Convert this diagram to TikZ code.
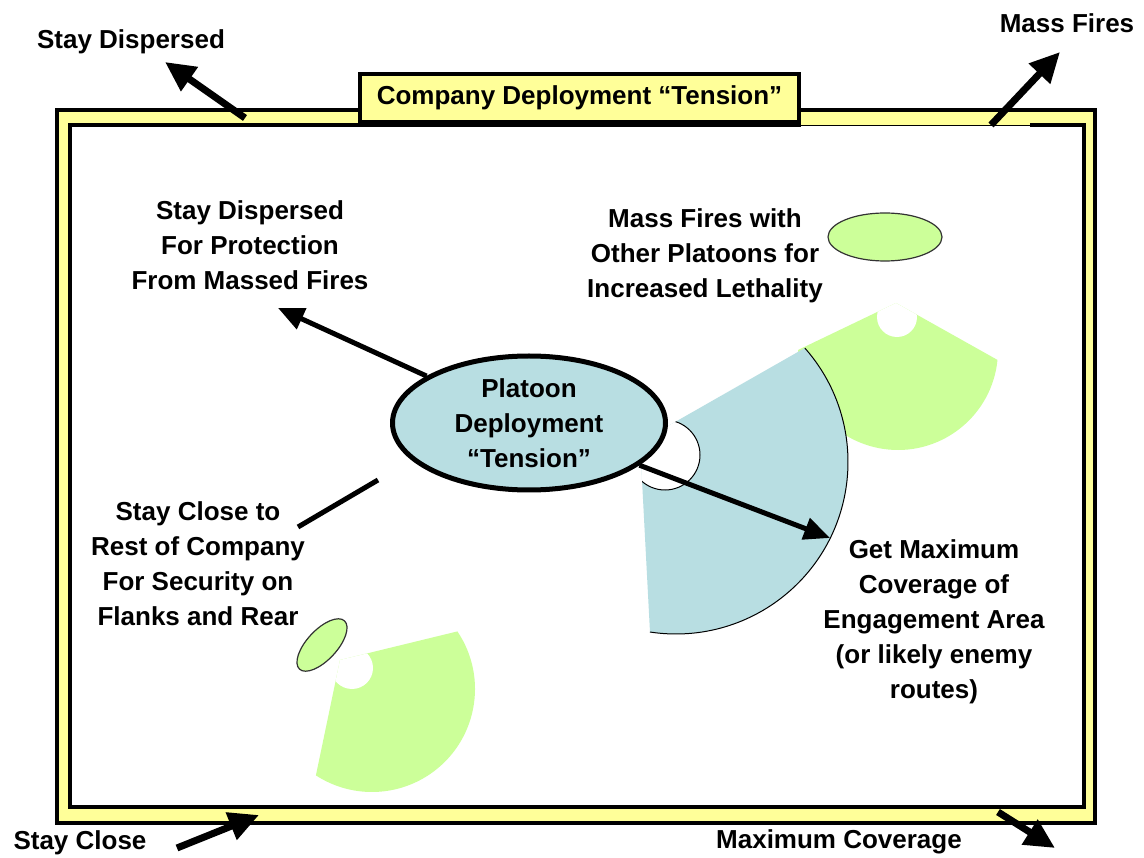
\documentclass[tikz,border=0pt]{standalone}
\usepackage{fontspec}
\setmainfont{Liberation Sans}
\usepackage{tikz}
\usetikzlibrary{calc, arrows.meta, shapes.geometric}

\definecolor{bandyellow}{HTML}{FFFF99}
\definecolor{platoonblue}{HTML}{B8DEE2}
\definecolor{fangreen}{HTML}{CCFF99}

\begin{document}
\begin{tikzpicture}[x=1pt, y=-1pt,
		txt/.style={font=\bfseries\fontsize{26}{35}\selectfont, align=center, inner sep=0pt},
		bigarrow/.style={line width=7pt, -{Triangle[length=30pt, width=28pt]}},
		arrowline/.style={line width=5pt, -{Triangle[length=26pt, width=22pt]}},
		smallellipse/.style={ellipse, draw=black!80, line width=1.2pt, fill=fangreen, inner sep=0pt}]
		\useasboundingbox (0,0) rectangle (1144,858);
		
		%company frame
		\filldraw[fill=bandyellow, line width=4pt] (56.5,110) rectangle (1095,823);
		\fill[white] (70,125.5) rectangle (1084,807);
		\draw[line width=4pt] (1030,125.5) -| (1084,807) -| (70,125.5) -- (801,125.5);
		\draw[line width=1pt] (801,125.5) -- (1030,125.5);
		\node[txt, draw, line width=4pt, fill=bandyellow, minimum width=439pt, minimum height=48pt] (company) at (579.5,98) {Company Deployment “Tension”};
		
		%definition of fan centres
		\coordinate (upper apex) at (896,303);
		\coordinate (upper centre) at (898,350);
		\coordinate (upper notch) at (897,317);
		\coordinate (blue apex) at (640,442);
		\coordinate (blue centre) at (676,462);
		\coordinate (blue notch) at (665,455);
		\coordinate (lower apex) at (340,660);
		\coordinate (lower centre) at (372,689);
		\coordinate (lower notch) at (352,668);
		
		%upper green fan
		\fill[fangreen] (upper apex) -- ($(upper centre)+(5.7:100)$) arc[start angle=5.7, end angle=180, radius=100] -- cycle;
		\begin{scope}
			\clip (upper apex) -- ($(upper centre)+(5.7:100)$) arc[start angle=5.7, end angle=180, radius=100] -- cycle;
			\fill[white] (upper notch) circle[radius=20];
		\end{scope}
		
		%blue fan
		\fill[platoonblue] (blue apex) -- ($(blue centre)+(-41.5:172)$) arc[start angle=-41.5, end angle=98.7, radius=172] -- cycle;
		\draw[line width=1pt] ($(blue centre)+(-41.5:172)$) arc[start angle=-41.5, end angle=98.7, radius=172];
		\begin{scope}
			\clip (blue apex) -- ($(blue centre)+(-41.5:172)$) arc[start angle=-41.5, end angle=98.7, radius=172] -- cycle;
			\filldraw[fill=white, line width=1pt] (blue notch) circle[radius=35];
		\end{scope}
		
		%lower green fan
		\fill[fangreen] (lower apex) -- ($(lower centre)+(-34:103)$) arc[start angle=-34, end angle=123, radius=103] -- cycle;
		\begin{scope}
			\clip (lower apex) -- ($(lower centre)+(-34:103)$) arc[start angle=-34, end angle=123, radius=103] -- cycle;
			\fill[white] (lower notch) circle[radius=21];
		\end{scope}
		
		%other platoons
		\node[smallellipse, minimum width=114pt, minimum height=48pt] (upper platoon) at (885,237) {};
		\node[smallellipse, minimum width=66pt, minimum height=30pt, rotate=47] (lower platoon) at (322,645) {};
		
		\node[txt, ellipse, draw, line width=5pt, fill=platoonblue, minimum width=273pt, minimum height=134pt] (platoon) at (529,423) {Platoon\\Deployment\\“Tension”};
		
		%labels
		\node[txt] (sd outer) at (131,42) {Stay Dispersed};
		\node[txt] (mf outer) at (1067,23) {Mass Fires};
		\node[txt] (sc outer) at (80,843) {Stay Close};
		\node[txt] (mc outer) at (839,842) {Maximum Coverage};
		\node[txt] (dispersed) at (250,245) {Stay Dispersed\\For Protection\\From Massed Fires};
		\node[txt] (massfires) at (705,256) {Mass Fires with\\Other Platoons for\\Increased Lethality};
		\node[txt] (close) at (198,564) {Stay Close to\\Rest of Company\\For Security on\\Flanks and Rear};
		\node[txt] (coverage) at (934,622) {Get Maximum\\Coverage of\\Engagement Area\\(or likely enemy\\routes)};
		
		%arrow ends
		\coordinate (sd tail) at (245,118);
		\coordinate (sd tip) at (165,62);
		\coordinate (mf tail) at (991,125);
		\coordinate (mf tip) at (1060,52);
		\coordinate (sc tail) at (177,848);
		\coordinate (sc tip) at (259,815);
		\coordinate (mc tail) at (998,812);
		\coordinate (mc tip) at (1055,848);
		\coordinate (dispersed tip) at (278,308);
		\coordinate (coverage tip) at (830,538);
		\coordinate (close start) at (298,527);
		\coordinate (close end) at (378,480);
		
		%arrows
		\draw[bigarrow] (sd tail) -- (sd tip);
		\draw[bigarrow] (mf tail) -- (mf tip);
		\draw[bigarrow] (sc tail) -- (sc tip);
		\draw[bigarrow] (mc tail) -- (mc tip);
		\draw[arrowline] (platoon) -- (dispersed tip);
		\draw[arrowline] (platoon) -- (coverage tip);
		\draw[line width=5pt] (close start) -- (close end);
	\end{tikzpicture}
\end{document}
